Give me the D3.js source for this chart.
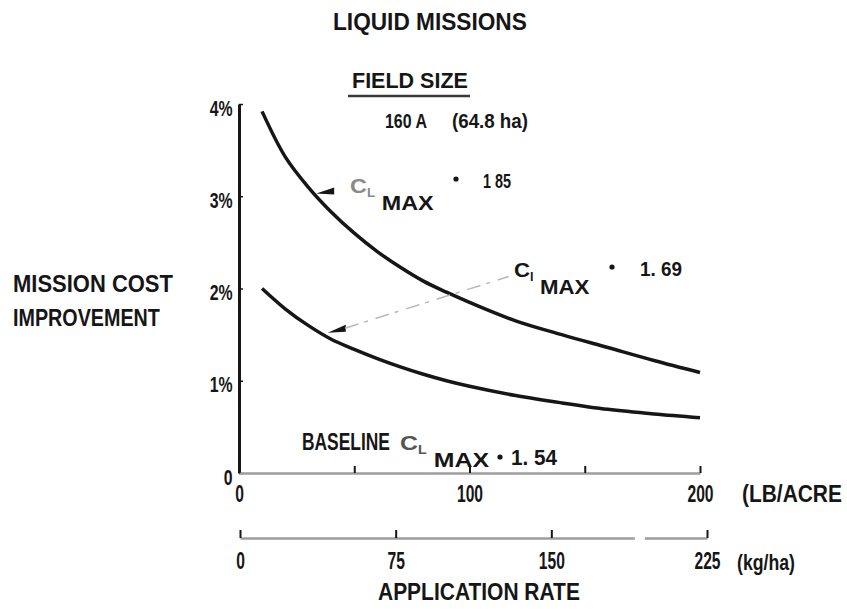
<!DOCTYPE html>
<html><head><meta charset="utf-8">
<script src="https://cdn.jsdelivr.net/npm/d3@7"></script>
<style>
html,body{margin:0;padding:0;background:#fff;}
svg{display:block;}
text{font-family:"Liberation Sans",Arial,sans-serif;fill:#161616;font-weight:bold;}
</style></head>
<body>
<svg id="chart" width="847" height="609"></svg>
<script>
// ---- data ----
const rateLb = [10, 20, 30, 40, 50, 60, 70, 80, 90, 100, 120, 140, 160, 180, 200];
const clmax185 = [3.92, 3.43, 3.10, 2.83, 2.60, 2.40, 2.23, 2.08, 1.96, 1.85, 1.65, 1.50, 1.36, 1.22, 1.09];
const clmax169 = [2.00, 1.78, 1.60, 1.45, 1.34, 1.24, 1.15, 1.07, 1.00, 0.94, 0.84, 0.76, 0.69, 0.64, 0.60];
const yTicks = [0, 1, 2, 3, 4];
const yTickLabels = ["0", "1%", "2%", "3%", "4%"];
const lbTicks = [0, 50, 100, 150, 200];
const lbTickLabels = ["0", "", "100", "", "200"];
const kgTicks = [0, 75, 150, 225];
const kgTickLabels = ["0", "75", "150", "225"];

const svg = d3.select("#chart");
const ink = "#161616";

const x = d3.scaleLinear().domain([0, 200]).range([239, 700]);
const xKg = d3.scaleLinear().domain([0, 225]).range([240, 707]);
const y = d3.scaleLinear().domain([0, 4]).range([473, 104]);

// text squeezed horizontally to a given width (real transform so bounding boxes stay true)
function fit(t, px, py, width) {
  const w = t.node().getComputedTextLength();
  const s = width / w;
  t.attr("transform", `translate(${px},${py}) scale(${s},1)`);
  return t;
}
function txt(px, py, s, size, width, color) {
  const t = svg.append("text").attr("font-size", size).text(s);
  if (color) t.style("fill", color);
  return fit(t, px, py, width);
}
// C_L MAX symbol as one text with tspans
function clmax(px, py, width, cColor, lChar) {
  const t = svg.append("text");
  t.append("tspan").attr("font-size", 21).style("fill", cColor).text("C");
  t.append("tspan").attr("font-size", 12).attr("dy", 4).style("fill", cColor).text(lChar);
  t.append("tspan").attr("font-size", 21).attr("dx", 6).attr("dy", 13).text("MAX");
  return fit(t, px, py, width);
}

// ---- y axis ----
const gy = svg.append("g").attr("transform", "translate(239,0)")
  .call(d3.axisLeft(y).tickValues(yTicks).tickSizeInner(-4).tickSizeOuter(0).tickPadding(9)
    .tickFormat((d, i) => yTickLabels[i]));
gy.select(".domain").attr("stroke", ink).attr("stroke-width", 3);
gy.selectAll(".tick line").attr("stroke", ink).attr("stroke-width", 1.5);
gy.selectAll(".tick text").attr("font-size", 22).attr("dy", "0.5em").attr("font-weight", "bold")
  .attr("transform", "scale(0.72,1)").style("fill", ink);

// ---- upper x axis (LB/ACRE) ----
const gx = svg.append("g").attr("transform", "translate(0,473)")
  .call(d3.axisBottom(x).tickValues(lbTicks).tickSizeInner(-7).tickSizeOuter(0).tickPadding(13)
    .tickFormat((d, i) => lbTickLabels[i]));
gx.select(".domain").attr("stroke", "#9d9d9d").attr("stroke-width", 2.5);
gx.selectAll(".tick line").attr("stroke", ink).attr("stroke-width", 2);
gx.selectAll(".tick text").attr("font-size", 23).attr("font-weight", "bold")
  .attr("transform", "scale(0.68,1)").style("fill", ink);

// ---- lower x axis (kg/ha) ----
const gk = svg.append("g").attr("transform", "translate(0,538)")
  .call(d3.axisBottom(xKg).tickValues(kgTicks).tickSizeInner(-8).tickSizeOuter(0).tickPadding(15)
    .tickFormat((d, i) => kgTickLabels[i]));
gk.select(".domain").attr("stroke", "#9d9d9d").attr("stroke-width", 2.5)
  .attr("stroke-dasharray", `${xKg(190) - xKg(0)},10,1000`);
gk.selectAll(".tick line").attr("stroke", ink).attr("stroke-width", 2);
gk.selectAll(".tick text").attr("font-size", 23).attr("font-weight", "bold")
  .attr("transform", "scale(0.68,1)").style("fill", ink);

// ---- curves ----
const line = d3.line().x(d => x(d[0])).y(d => y(d[1])).curve(d3.curveCatmullRom.alpha(0.5));
svg.append("path").datum(rateLb.map((r, i) => [r, clmax185[i]]))
  .attr("d", line).attr("fill", "none").attr("stroke", ink).attr("stroke-width", 3.5);
svg.append("path").datum(rateLb.map((r, i) => [r, clmax169[i]]))
  .attr("d", line).attr("fill", "none").attr("stroke", ink).attr("stroke-width", 3.5);

// ---- arrows / leader ----
function arrow(tipRate, tipVal, dx, dy) {
  const tx = x(tipRate), ty = y(tipVal);
  svg.append("path")
    .attr("d", `M${tx},${ty} L${tx + dx},${ty + dy - 4} L${tx + dx},${ty + dy + 3} Z`)
    .attr("fill", ink);
}
arrow(33.5, 3.03, 18, -2);
arrow(38.5, 1.52, 18, -4);
svg.append("line").attr("x1", x(46)).attr("y1", y(1.57)).attr("x2", x(117)).attr("y2", y(2.13))
  .attr("stroke", "#b8b8b8").attr("stroke-width", 1.5).attr("stroke-dasharray", "14,6,4,8");

// ---- titles and labels ----
txt(333, 30, "LIQUID MISSIONS", 24, 194);
txt(352, 88, "FIELD SIZE", 22, 116);
svg.append("line").attr("x1", 348).attr("x2", 470).attr("y1", 96).attr("y2", 96)
  .attr("stroke", "#3a3a3a").attr("stroke-width", 2.5);
txt(385, 128, "160 A", 21, 42);
txt(452, 128, "(64.8 ha)", 21, 76);

txt(13, 292, "MISSION COST", 23, 160);
txt(13, 326, "IMPROVEMENT", 23, 147);

txt(742, 502, "(LB/ACRE", 23, 100);
txt(737, 570, "(kg/ha)", 22, 58);
txt(378, 600, "APPLICATION RATE", 23, 202);

// C_L MAX = 1.85
clmax(350, 193, 77, "#8a8a8a", "L");
svg.append("circle").attr("cx", 456).attr("cy", 179).attr("r", 2.6).attr("fill", ink);
txt(483, 188, "1 85", 21, 28);

// C_L MAX = 1.69
clmax(514, 277, 69, ink, "l");
svg.append("circle").attr("cx", 612).attr("cy", 267).attr("r", 2.6).attr("fill", ink);
txt(640, 276, "1. 69", 21, 42);

// BASELINE C_L MAX = 1.54
txt(302, 450, "BASELINE", 23, 88);
clmax(400, 450, 82, "#555", "L");
svg.append("circle").attr("cx", 500).attr("cy", 457).attr("r", 2.6).attr("fill", ink);
txt(511, 465, "1. 54", 22, 46);
</script>
</body></html>
